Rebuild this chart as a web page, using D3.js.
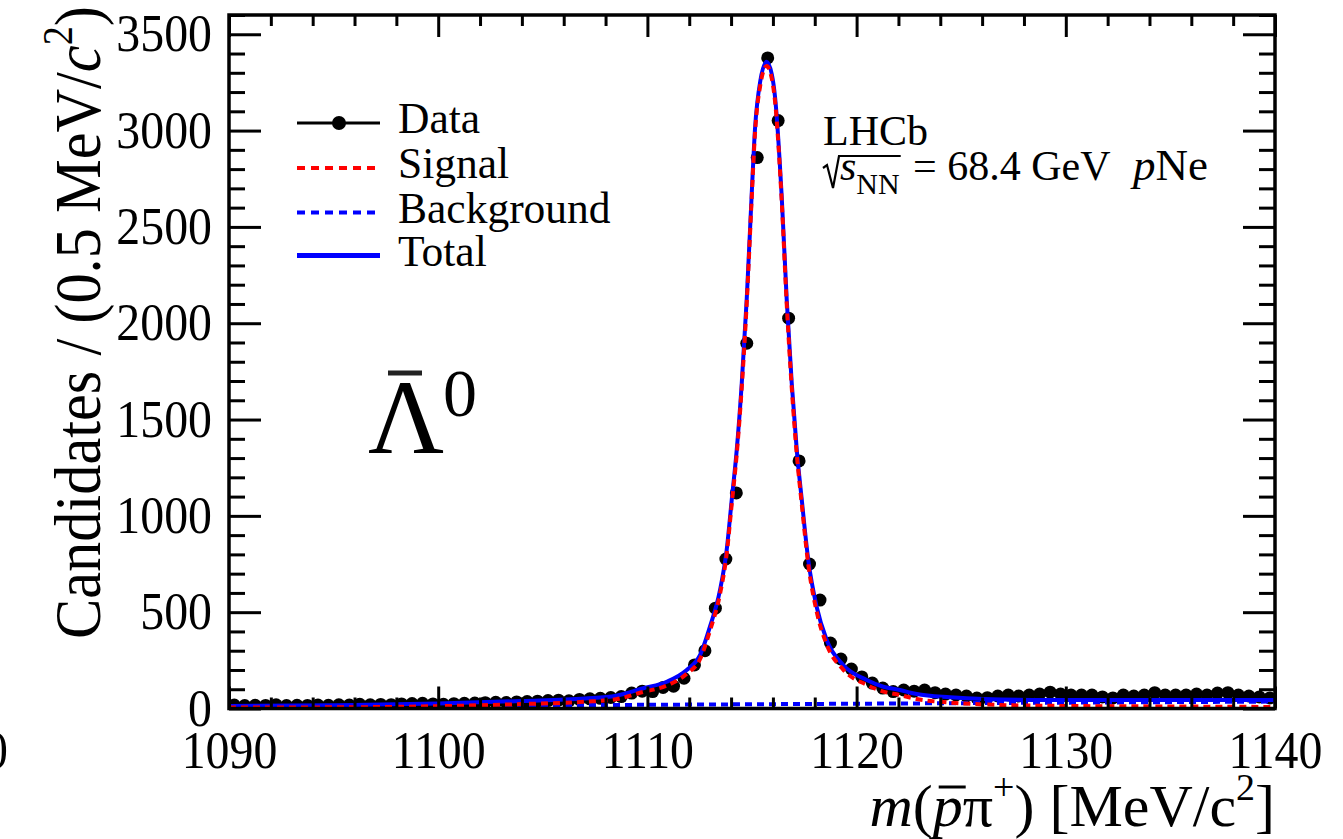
<!DOCTYPE html>
<html><head><meta charset="utf-8">
<script src="https://cdn.jsdelivr.net/npm/d3@7/dist/d3.min.js"></script>
<style>
body{margin:0;background:#fff;}
svg{display:block;}
text{font-family:"Liberation Serif","Times New Roman",serif;fill:#000;white-space:pre;}
</style></head><body>
<svg id="chart" width="1343" height="839"></svg>
<script>
// ---- data ----
const massBins = [
1090.25,1090.75,1091.25,1091.75,1092.25,1092.75,1093.25,1093.75,1094.25,1094.75,
1095.25,1095.75,1096.25,1096.75,1097.25,1097.75,1098.25,1098.75,1099.25,1099.75,
1100.25,1100.75,1101.25,1101.75,1102.25,1102.75,1103.25,1103.75,1104.25,1104.75,
1105.25,1105.75,1106.25,1106.75,1107.25,1107.75,1108.25,1108.75,1109.25,1109.75,
1110.25,1110.75,1111.25,1111.75,1112.25,1112.75,1113.25,1113.75,1114.25,1114.75,
1115.25,1115.75,1116.25,1116.75,1117.25,1117.75,1118.25,1118.75,1119.25,1119.75,
1120.25,1120.75,1121.25,1121.75,1122.25,1122.75,1123.25,1123.75,1124.25,1124.75,
1125.25,1125.75,1126.25,1126.75,1127.25,1127.75,1128.25,1128.75,1129.25,1129.75,
1130.25,1130.75,1131.25,1131.75,1132.25,1132.75,1133.25,1133.75,1134.25,1134.75,
1135.25,1135.75,1136.25,1136.75,1137.25,1137.75,1138.25,1138.75,1139.25,1139.75];
const counts = [
18,15,17,16,19,15,17,16,18,17,
19,18,22,19,21,20,24,26,27,24,
22,25,27,28,30,32,31,34,36,38,
41,43,40,47,50,53,57,62,80,90,
88,109,116,157,226,300,521,776,1119,1896,
2860,3377,3052,2026,1285,750,563,340,257,205,
164,132,106,88,96,90,96,82,75,70,
65,54,56,65,70,65,70,75,85,75,
70,70,70,60,55,70,65,70,82,70,
70,70,75,70,80,82,70,65,60,55];

const fitMass = [1090,1095,1100,1104,1107,1108.5,1109.8,1110.92,1111.88,1112.52,1112.99,1113.47,1113.79,1114.03,1114.27,1114.51,1114.75,1114.98,1115.14,1115.4,1115.7,1115.95,1116.1,1116.42,1116.66,1116.9,1117.14,1117.38,1117.69,1118.09,1118.57,1119.36,1120.48,1121.28,1122.07,1122.87,1124.47,1126.06,1129.25,1134,1140];
const totalFit = [13,17,26,39,52,66,105,139,200,278,425,615,823,1082,1342,1688,2130,2657,3003,3260,3357,3290,3176,2657,2121,1688,1342,1082,771,528,356,226,148,113,96,75,58,49,44,44,44];
const signalFit = [5,6,12,23,35,48,86,119,180,257,404,594,802,1060,1320,1666,2108,2635,2981,3238,3335,3268,3153,2634,2098,1665,1319,1059,748,504,332,202,123,88,70,49,31,21,14,11,8];
const bkgMass = [1090,1140];
const bkgFit = [8,36];

const xTicks = [1090,1100,1110,1120,1130,1140];
const yTicks = [0,500,1000,1500,2000,2500,3000,3500];
const legendLabels = ["Data","Signal","Background","Total"];

// ---- layout ----
const svg = d3.select("#chart");
const L=229, R=1275, T=15, B=708.5;
const x = d3.scaleLinear().domain([1090,1140]).range([L,R]);
const y = d3.scaleLinear().domain([0,3600]).range([B,T]);
const xMinor = d3.range(1090,1141,2).filter(v=>v%10!==0);
const yMinor = d3.range(0,3601,100).filter(v=>v%500!==0);

svg.append("defs").append("clipPath").attr("id","plotclip")
  .append("rect").attr("x",L).attr("y",T).attr("width",R-L).attr("height",B-T);

const plot = svg.append("g").attr("clip-path","url(#plotclip)");

// data points
plot.append("g").selectAll("circle").data(massBins).join("circle")
  .attr("cx",(d)=>x(d)).attr("cy",(d,i)=>y(counts[i])).attr("r",6.5).attr("fill","#000");

const line = d3.line().x(d=>x(d[0])).y(d=>y(d[1])).curve(d3.curveMonotoneX);
plot.append("path").attr("d",line(bkgMass.map((m,i)=>[m,bkgFit[i]])))
  .attr("fill","none").attr("stroke","#0000ff").attr("stroke-width",4).attr("stroke-dasharray","7,5");
plot.append("path").attr("d",line(fitMass.map((m,i)=>[m,totalFit[i]])))
  .attr("fill","none").attr("stroke","#0000ff").attr("stroke-width",4);
plot.append("path").attr("d",line(fitMass.map((m,i)=>[m,signalFit[i]])))
  .attr("fill","none").attr("stroke","#ff0000").attr("stroke-width",4).attr("stroke-dasharray","7,5");

// axes
function styleAxis(g){ g.select(".domain").remove(); g.selectAll(".tick line").attr("stroke","#000").attr("stroke-width",3); g.attr("font-family",null).attr("font-size",null);}
const FS=52, SX=0.92;
svg.append("g").attr("transform",`translate(0,${B})`)
  .call(d3.axisBottom(x).tickValues(xTicks).tickSize(-22).tickPadding(23).tickFormat(d3.format("d")))
  .call(styleAxis).selectAll("text").attr("font-size",FS).attr("transform",`scale(${SX},1)`);
svg.append("g").attr("transform",`translate(0,${B})`)
  .call(d3.axisBottom(x).tickValues(xMinor).tickSize(-11).tickFormat("")).call(styleAxis);
svg.append("g").attr("transform",`translate(0,${T})`)
  .call(d3.axisTop(x).tickValues(xTicks).tickSize(-22).tickFormat("")).call(styleAxis);
svg.append("g").attr("transform",`translate(0,${T})`)
  .call(d3.axisTop(x).tickValues(xMinor).tickSize(-11).tickFormat("")).call(styleAxis);
svg.append("g").attr("transform",`translate(${L},0)`)
  .call(d3.axisLeft(y).tickValues(yTicks).tickSize(-32).tickPadding(17).tickFormat(d3.format("d")))
  .call(styleAxis).selectAll("text").attr("font-size",FS).attr("x",-17/SX).attr("transform",`scale(${SX},1)`);
svg.append("g").attr("transform",`translate(${L},0)`)
  .call(d3.axisLeft(y).tickValues(yMinor).tickSize(-16).tickFormat("")).call(styleAxis);
svg.append("g").attr("transform",`translate(${R},0)`)
  .call(d3.axisRight(y).tickValues(yTicks).tickSize(-32).tickFormat("")).call(styleAxis);
svg.append("g").attr("transform",`translate(${R},0)`)
  .call(d3.axisRight(y).tickValues(yMinor).tickSize(-16).tickFormat("")).call(styleAxis);

svg.append("rect").attr("x",L).attr("y",T).attr("width",R-L).attr("height",B-T)
  .attr("fill","none").attr("stroke","#000").attr("stroke-width",3.5);

// stray clipped label of neighbouring panel
svg.append("text").attr("x",8).attr("y",768).attr("text-anchor","end").attr("font-size",FS)
  .attr("transform",`translate(8,0) scale(${SX},1) translate(-8,0)`).text("0");

// helper: sequential segments
function segText(parent, x0, y0, segs, anchorEnd){
  const g = parent.append("g");
  let cx = x0; const placed=[];
  segs.forEach(s=>{
    const t = g.append("text").attr("x",cx).attr("y",y0+(s.dy||0)).attr("font-size",s.size)
      .attr("font-style",s.italic?"italic":"normal").text(s.t);
    const w = t.node().getComputedTextLength();
    placed.push({x:cx,w:w,node:t,seg:s});
    cx += w + (s.after||0);
  });
  if(anchorEnd){
    const shift = x0 - cx;
    placed.forEach(p=>{p.x+=shift; p.node.attr("x",p.x);});
  }
  return placed;
}

// y title
const yt = svg.append("g").attr("transform","translate(100,322.5) rotate(-90) scale(0.915,1)");
const ytp = segText(yt,0,0,[
  {t:"Candidates / (0.5 MeV/",size:66},
  {t:"c",size:66,italic:true},
  {t:"2",size:42,dy:-28},
  {t:")",size:66}]);
const ytw = ytp[ytp.length-1].x + ytp[ytp.length-1].w;
yt.selectAll("text").attr("x",function(){return +d3.select(this).attr("x")-ytw/2;});

// x title
const xp = segText(svg,1275,826,[
  {t:"m",size:60,italic:true},
  {t:"(",size:60},
  {t:"p",size:60,italic:true},
  {t:"π",size:60},
  {t:"+",size:38,dy:-26},
  {t:") [MeV/c",size:60},
  {t:"2",size:38,dy:-26},
  {t:"]",size:60}], true);
svg.append("line").attr("x1",xp[2].x+6).attr("x2",xp[2].x+xp[2].w+3).attr("y1",787).attr("y2",787)
  .attr("stroke","#000").attr("stroke-width",3);

// legend
const rowsY=[123,168,212.5,255.5];
const lg = svg.append("g");
lg.append("line").attr("x1",297).attr("x2",380).attr("y1",rowsY[0]).attr("y2",rowsY[0]).attr("stroke","#000").attr("stroke-width",3);
lg.append("circle").attr("cx",339).attr("cy",rowsY[0]).attr("r",7).attr("fill","#000");
lg.append("line").attr("x1",297).attr("x2",380).attr("y1",rowsY[1]).attr("y2",rowsY[1]).attr("stroke","#ff0000").attr("stroke-width",4).attr("stroke-dasharray","8,6");
lg.append("line").attr("x1",297).attr("x2",380).attr("y1",rowsY[2]).attr("y2",rowsY[2]).attr("stroke","#0000ff").attr("stroke-width",4).attr("stroke-dasharray","8,6");
lg.append("line").attr("x1",297).attr("x2",380).attr("y1",rowsY[3]).attr("y2",rowsY[3]).attr("stroke","#0000ff").attr("stroke-width",5);
legendLabels.forEach((lab,i)=>{
  lg.append("text").attr("x",398).attr("y",rowsY[i]+10).attr("font-size",43.5).text(lab);
});

// LHCb text
svg.append("text").attr("x",823).attr("y",145).attr("font-size",42).text("LHCb");
const sp = segText(svg,840,180,[
  {t:"s",size:42,italic:true},
  {t:"NN",size:30,dy:14}]);
const ovEnd = sp[1].x+sp[1].w+1;
svg.append("path").attr("d",`M823,168 L827,165 L833,188 L839,156 L${ovEnd},156`)
  .attr("fill","none").attr("stroke","#000").attr("stroke-width",2.2);
svg.append("text").attr("x",913).attr("y",180).attr("font-size",42).text("= 68.4 GeV");
segText(svg,1133,180,[{t:"p",size:45,italic:true},{t:"Ne",size:45}]);

// Lambda-bar label
svg.append("text").attr("x",368).attr("y",453).attr("font-size",105).attr("fill","#222").text("Λ");
svg.append("line").attr("x1",388).attr("x2",422).attr("y1",373).attr("y2",373).attr("stroke","#222").attr("stroke-width",5);
svg.append("text").attr("x",443).attr("y",416).attr("font-size",68).attr("fill","#222").text("0");
</script>
</body></html>
